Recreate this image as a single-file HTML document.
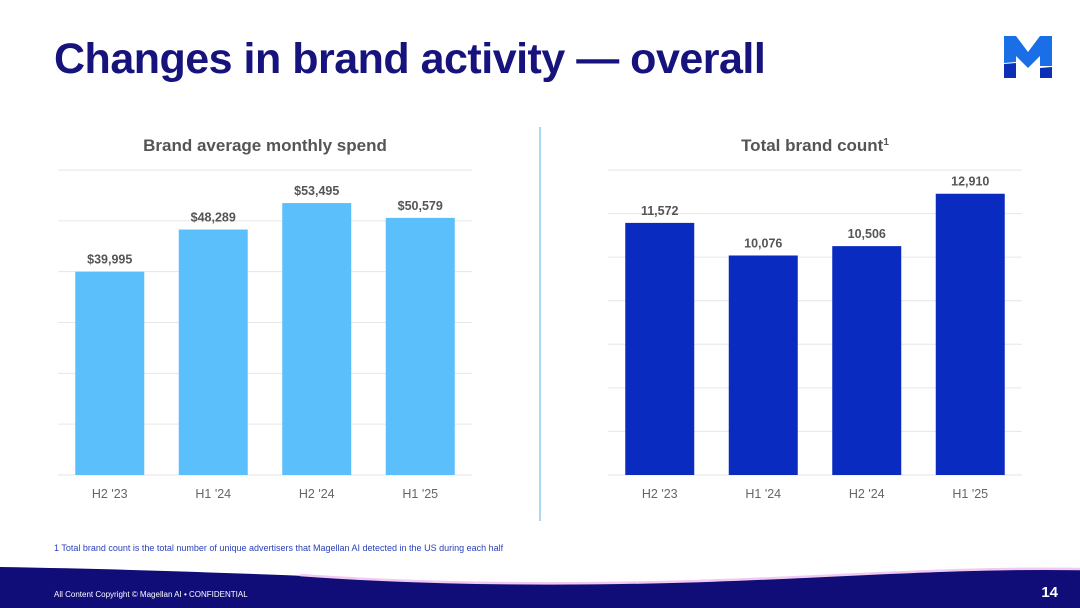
<!DOCTYPE html>
<html><head><meta charset="utf-8"><style>
body{margin:0;width:1080px;height:608px;overflow:hidden;background:#fff;font-family:"Liberation Sans",sans-serif;position:relative}
.title{position:absolute;left:54px;top:35px;font-size:43px;font-weight:bold;color:#16137d;letter-spacing:-0.5px}
svg{position:absolute;left:0;top:0}
</style></head><body>
<div class="title">Changes in brand activity — overall</div>
<svg id="s" width="1080" height="608">
 <g>
  <polygon points="1004,36 1016,36 1028,52 1040,36 1052,36 1052,66 1040,66 1040,56 1028,68 1016,56 1016,62 1004,63" fill="#1a6fe6"/>
  <polygon points="1004,64 1016,63 1016,78 1004,78" fill="#0b2fb5"/>
  <polygon points="1040,68 1052,67 1052,78 1040,78" fill="#0b2fb5"/>
 </g>
 <line x1="540" y1="127" x2="540" y2="521" stroke="#8fcaf0" stroke-width="1.5"/>
 <text x="265" y="151" text-anchor="middle" font-size="17" font-weight="bold" fill="#555">Brand average monthly spend</text>
 <text x="815" y="151" text-anchor="middle" font-size="17" font-weight="bold" fill="#555">Total brand count<tspan font-size="10" dy="-6">1</tspan></text>
 <text x="54" y="551" font-size="9" fill="#2a3fb8">1 Total brand count is the total number of unique advertisers that Magellan AI detected in the US during each half</text>
 <path d="M0,567 C300,572 450,586 600,583 C800,578 950,568 1080,570 L1080,608 L0,608 Z" fill="#100c78"/>
 <path d="M300,575 C450,586 600,584 700,581 C850,576 950,567 1080,569" fill="none" stroke="#f2c9f0" stroke-width="2.5"/>
 <text x="54" y="597" font-size="8" fill="#fff">All Content Copyright © Magellan AI • CONFIDENTIAL</text>
 <text x="1058" y="597" text-anchor="end" font-size="15" font-weight="bold" fill="#fff">14</text>
</svg>
<script>
const cats=["H2 '23","H1 '24","H2 '24","H1 '25"];
const spend=[39995,48289,53495,50579];
const spendLabels=["$39,995","$48,289","$53,495","$50,579"];
const counts=[11572,10076,10506,12910];
const countLabels=["11,572","10,076","10,506","12,910"];
const spendMax=60000, spendStep=10000, countMax=14000, countStep=2000;
const svg=document.getElementById('s');
const NS='http://www.w3.org/2000/svg';
function mk(t,a){const e=document.createElementNS(NS,t);for(const k in a)e.setAttribute(k,a[k]);svg.appendChild(e);return e;}
function chart(prefix,x0,x1,vals,labels,max,step,color){
 const top=170,base=475;
 const y=v=>base-(v/max)*(base-top);
 for(let v=0;v<=max;v+=step){
  const l=mk('line',{x1:x0,x2:x1,y1:y(v),y2:y(v),stroke:'#e6e6e6','stroke-width':1});
  
  
 }
 const slot=(x1-x0)/vals.length, bw=69;
 vals.forEach((v,i)=>{
  const cx=x0+slot*(i+0.5);
  const r=mk('rect',{x:cx-bw/2,y:y(v),width:bw,height:base-y(v),fill:color});
  
  
  const t=mk('text',{x:cx,y:y(v)-8,'text-anchor':'middle','font-size':12.5,'font-weight':'bold',fill:'#555'});
  t.textContent=labels[i];
  
  
  const c=mk('text',{x:cx,y:498,'text-anchor':'middle','font-size':12.5,fill:'#666'});
  c.textContent=cats[i];
  
  
 });
}
chart('spend',58,472,spend,spendLabels,spendMax,spendStep,'#5bbffb');
chart('count',608,1022,counts,countLabels,countMax,countStep,'#0a2bc0');
</script>
</body></html>
